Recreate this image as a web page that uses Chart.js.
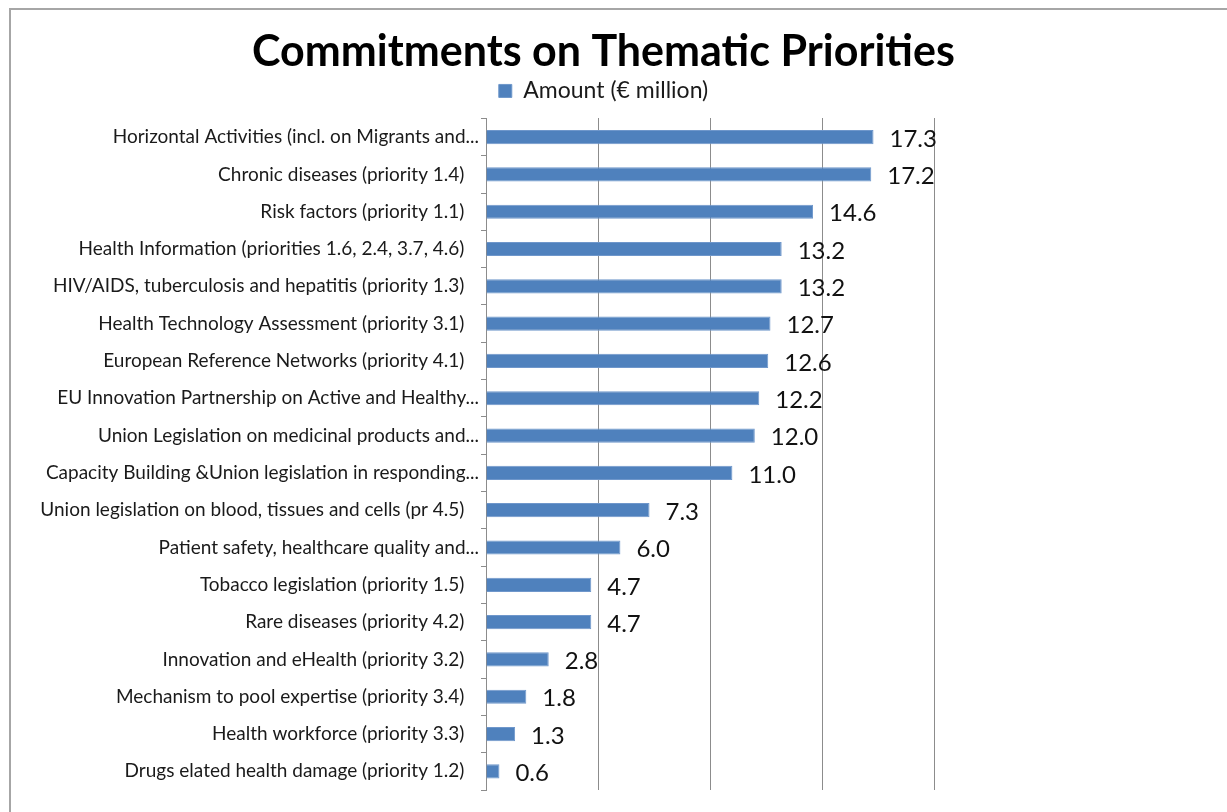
<!DOCTYPE html>
<html>
<head>
<meta charset="utf-8">
<script src="https://cdn.jsdelivr.net/npm/chart.js@4.4.1/dist/chart.umd.min.js"></script>
<style>
  html, body { margin: 0; padding: 0; background: #fff; }
  #wrap { position: relative; width: 1227px; height: 812px; }
  #frame { position: absolute; left: 9px; top: 8px; right: 0; bottom: 0;
           border-top: 2px solid #a6a6a6; border-left: 2px solid #a6a6a6; }
  canvas { position: absolute; left: 0; top: 0; }
</style>
</head>
<body>
<div id="wrap">
  <div id="frame"></div>
  <canvas id="chartPriorities" width="1227" height="812"></canvas>
</div>
<script>
const categories = [
  'Horizontal Activities (incl. on Migrants and...',
  'Chronic diseases (priority 1.4)',
  'Risk factors (priority 1.1)',
  'Health Information (priorities 1.6, 2.4, 3.7, 4.6)',
  'HIV/AIDS, tuberculosis and hepatitis (priority 1.3)',
  'Health Technology Assessment (priority 3.1)',
  'European Reference Networks (priority 4.1)',
  'EU Innovation Partnership on Active and Healthy...',
  'Union Legislation on medicinal products and...',
  'Capacity Building &Union legislation in responding...',
  'Union legislation on blood, tissues and cells (pr 4.5)',
  'Patient safety, healthcare quality and...',
  'Tobacco legislation (priority 1.5)',
  'Rare diseases (priority 4.2)',
  'Innovation and eHealth (priority 3.2)',
  'Mechanism to pool expertise (priority 3.4)',
  'Health workforce (priority 3.3)',
  'Drugs elated health damage (priority 1.2)'
];

const amounts = [17.3, 17.2, 14.6, 13.2, 13.2, 12.7, 12.6, 12.2, 12.0, 11.0, 7.3, 6.0, 4.7, 4.7, 2.8, 1.8, 1.3, 0.6];

const seriesName = 'Amount (€ million)';
const xTicks = [0, 5, 10, 15, 20];

const FONT = 'Lato, "Open Sans", sans-serif';

// value labels next to each bar
const valueLabels = {
  id: 'valueLabels',
  afterDatasetsDraw(chart) {
    const ctx = chart.ctx;
    const meta = chart.getDatasetMeta(0);
    ctx.save();
    ctx.font = '24px ' + FONT;
    ctx.fillStyle = '#111';
    ctx.textAlign = 'left';
    ctx.textBaseline = 'middle';
    meta.data.forEach((bar, i) => {
      ctx.fillText(amounts[i].toFixed(1), bar.x + 16, bar.y + 2);
    });
    ctx.restore();
  }
};

const ctxP = document.getElementById('chartPriorities').getContext('2d');
new Chart(ctxP, {
  type: 'bar',
  data: {
    labels: categories,
    datasets: [{
      label: seriesName,
      data: amounts,
      backgroundColor: '#4f81bd',
      borderColor: '#6f97cb',
      borderWidth: 1,
      categoryPercentage: 1,
      barPercentage: 0.38
    }]
  },
  options: {
    indexAxis: 'y',
    responsive: false,
    animation: false,
    layout: { padding: { left: 0, right: 20, top: 0, bottom: 22 } },
    scales: {
      x: {
        position: 'top',
        min: xTicks[0],
        max: xTicks[xTicks.length - 1],
        afterBuildTicks: s => { s.ticks = xTicks.map(v => ({ value: v })); },
        afterFit: s => { s.height = 6; },
        ticks: { display: false },
        grid: { color: '#8c8c8c', drawTicks: false },
        border: { display: false }
      },
      y: {
        afterFit: s => { s.width = 486; },
        ticks: {
          color: '#1a1a1a',
          font: { family: FONT, size: 19 },
          padding: 2,
          autoSkip: false,
          callback: function (v) {
            const t = this.getLabelForValue(v);
            return t.endsWith('...') ? t : t + '   ';
          }
        },
        grid: { drawOnChartArea: false, color: '#8c8c8c', tickLength: 5 },
        border: { color: '#8c8c8c' }
      },
      yRight: {
        position: 'right',
        afterFit: s => { s.width = 273; },
        ticks: { display: false },
        grid: { display: false },
        border: { display: false }
      }
    },
    plugins: {
      title: {
        display: true,
        text: 'Commitments on Thematic Priorities',
        color: '#000',
        font: { family: FONT, size: 43, weight: 'bold', lineHeight: 1.15 },
        padding: { top: 27, bottom: 0 }
      },
      legend: {
        position: 'top',
        labels: {
          color: '#1a1a1a',
          font: { family: FONT, size: 23 },
          boxWidth: 13,
          boxHeight: 13,
          padding: 3
        }
      },
      tooltip: { enabled: false }
    }
  },
  plugins: [valueLabels]
});
</script>
</body>
</html>
